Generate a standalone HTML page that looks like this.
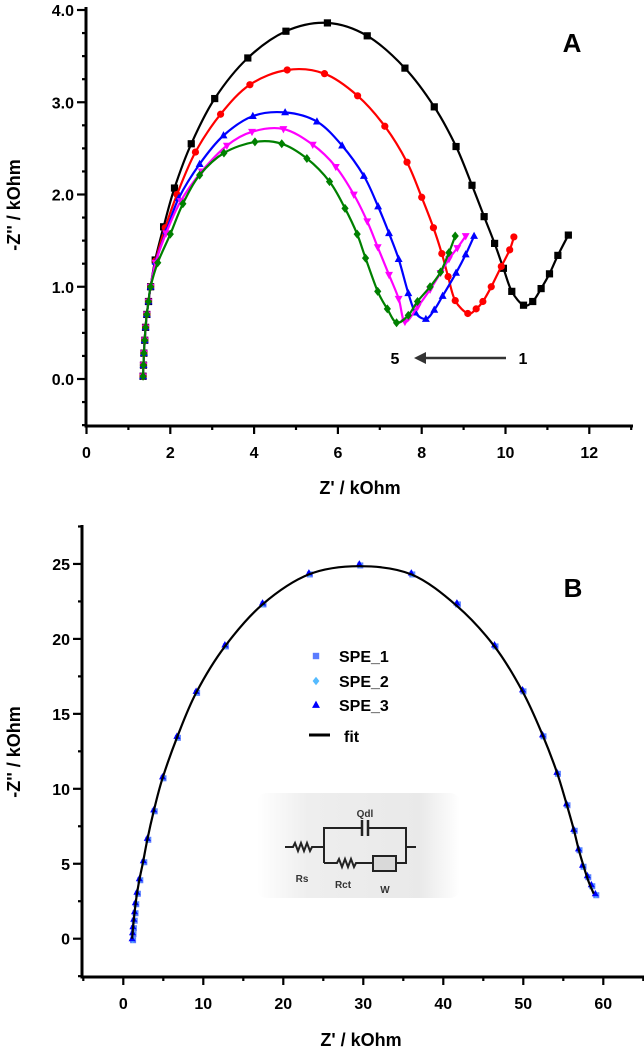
<!DOCTYPE html>
<html><head><meta charset="utf-8"><style>
html,body{margin:0;padding:0;background:#fff;}
svg{display:block;font-family:"Liberation Sans",sans-serif;font-weight:bold;}
</style></head><body>
<svg id="chart" width="644" height="1050" viewBox="0 0 644 1050" xmlns="http://www.w3.org/2000/svg">
<defs>
<linearGradient id="insetGrad" x1="0" x2="1" y1="0" y2="0">
<stop offset="0" stop-color="#ffffff"/><stop offset="0.25" stop-color="#eeeeee"/><stop offset="0.8" stop-color="#e9e9e9"/><stop offset="1" stop-color="#ffffff"/>
</linearGradient>
</defs>
<g id="panelA"></g>
<g id="panelB"></g>
</svg>
<script>
// ---------- Panel A data ----------
const aStartX = [1.35,1.36,1.37,1.39,1.41,1.44,1.48,1.53];
const aStartY = [0.03,0.15,0.28,0.42,0.56,0.7,0.84,1.0];
const blackX = [1.64,1.84,2.1,2.5,3.06,3.85,4.76,5.75,6.7,7.6,8.3,8.82,9.2,9.49,9.74,9.95,10.15,10.43,10.65,10.85,11.05,11.25,11.5];
const blackY = [1.29,1.65,2.07,2.55,3.04,3.48,3.77,3.86,3.72,3.37,2.95,2.52,2.1,1.76,1.47,1.2,0.95,0.8,0.84,0.98,1.14,1.34,1.56];
const redX = [1.65,1.88,2.16,2.6,3.2,3.9,4.79,5.68,6.47,7.12,7.65,8.0,8.28,8.48,8.63,8.8,9.1,9.3,9.46,9.66,9.9,10.1,10.2];
const redY = [1.28,1.64,2.0,2.46,2.87,3.19,3.35,3.31,3.07,2.74,2.35,1.97,1.64,1.36,1.11,0.85,0.71,0.76,0.84,1.0,1.22,1.4,1.54];
const blueX = [1.65,1.9,2.2,2.7,3.27,3.97,4.74,5.5,6.1,6.62,6.96,7.22,7.45,7.68,7.85,8.1,8.3,8.5,8.82,9.05,9.25];
const blueY = [1.27,1.6,1.96,2.33,2.64,2.85,2.89,2.79,2.53,2.2,1.87,1.58,1.3,0.93,0.72,0.65,0.75,0.9,1.15,1.35,1.55];
const magX = [1.65,1.9,2.25,2.75,3.35,3.95,4.7,5.4,5.95,6.38,6.7,6.95,7.22,7.45,7.6,7.9,8.2,8.45,8.65,8.85,9.05];
const magY = [1.26,1.58,1.93,2.25,2.53,2.68,2.71,2.54,2.3,2.0,1.71,1.43,1.13,0.87,0.62,0.78,0.97,1.15,1.3,1.42,1.55];
const greenX = [1.7,2.0,2.3,2.7,3.28,4.02,4.66,5.26,5.8,6.17,6.46,6.66,6.95,7.18,7.4,7.68,7.9,8.2,8.45,8.65,8.8];
const greenY = [1.26,1.57,1.9,2.21,2.45,2.57,2.55,2.39,2.14,1.85,1.57,1.31,0.95,0.76,0.61,0.69,0.84,1.0,1.16,1.37,1.55];
const aXTicks = [0,2,4,6,8,10,12];
const aYTicks = [0,1,2,3,4];
const aYTickLabels = ["0.0","1.0","2.0","3.0","4.0"];

// ---------- Panel B data ----------
const bX = [1.1,1.15,1.2,1.3,1.4,1.5,1.7,2.0,2.5,3.0,3.8,4.9,6.7,9.1,12.7,17.4,23.2,29.5,36.0,41.7,46.4,49.9,52.4,54.2,55.4,56.3,56.9,57.4,58.0,58.5,59.0];
const bY = [0,0.4,0.8,1.3,1.8,2.4,3.1,4.0,5.2,6.7,8.6,10.8,13.5,16.5,19.6,22.4,24.4,25.0,24.4,22.4,19.6,16.6,13.6,11.1,9.0,7.3,6.0,4.9,4.2,3.6,3.0];
const fitX = [1.1,1.3,1.6,2.0,2.5,3.0,3.8,4.9,6.7,9.1,12.7,17.4,23.2,29.5,36.0,41.7,46.4,49.9,52.4,54.2,55.4,56.3,56.9,57.5,58.1,58.8];
const fitY = [0,1.2,2.6,3.9,5.2,6.6,8.5,10.7,13.4,16.4,19.5,22.3,24.3,24.85,24.3,22.2,19.5,16.5,13.6,11.1,9.0,7.3,6.0,4.9,3.9,3.0];
const bXTicks = [0,10,20,30,40,50,60];
const bYTicks = [0,5,10,15,20,25];

const NS = "http://www.w3.org/2000/svg";
function mk(parent, tag, attrs, text) {
  const e = document.createElementNS(NS, tag);
  for (const k in attrs) e.setAttribute(k, attrs[k]);
  if (text !== undefined) e.textContent = text;
  parent.appendChild(e);
  return e;
}
function smooth(pts) {
  let d = "M" + pts[0][0].toFixed(1) + "," + pts[0][1].toFixed(1);
  for (let i = 0; i < pts.length - 1; i++) {
    const p0 = pts[i - 1] || pts[i], p1 = pts[i], p2 = pts[i + 1], p3 = pts[i + 2] || p2;
    const c1 = [p1[0] + (p2[0] - p0[0]) / 6, p1[1] + (p2[1] - p0[1]) / 6];
    const c2 = [p2[0] - (p3[0] - p1[0]) / 6, p2[1] - (p3[1] - p1[1]) / 6];
    d += "C" + c1.map(v=>v.toFixed(1)).join(",") + " " + c2.map(v=>v.toFixed(1)).join(",") + " " + p2[0].toFixed(1) + "," + p2[1].toFixed(1);
  }
  return d;
}
function marker(g, shape, x, y, color, s) {
  let e;
  if (shape === "square") e = mk(g, "rect", {x: x - s, y: y - s, width: 2 * s, height: 2 * s, fill: color});
  else if (shape === "circle") e = mk(g, "circle", {cx: x, cy: y, r: s, fill: color});
  else if (shape === "up") e = mk(g, "polygon", {points: `${x},${y - s * 1.2} ${x - s * 1.1},${y + s * 0.8} ${x + s * 1.1},${y + s * 0.8}`, fill: color});
  else if (shape === "down") e = mk(g, "polygon", {points: `${x},${y + s * 1.2} ${x - s * 1.1},${y - s * 0.8} ${x + s * 1.1},${y - s * 0.8}`, fill: color});
  else e = mk(g, "polygon", {points: `${x},${y - s * 1.25} ${x + s},${y} ${x},${y + s * 1.25} ${x - s},${y}`, fill: color});
  return e;
}

// ---------- Panel A ----------
(function () {
  const g = document.getElementById("panelA");
  const xA = v => 86.5 + v * 41.9;
  const yA = v => 379 - v * 92.25;
  const axL = 86, axB = 426, axT = 7, axR = 633;
  const ax = mk(g, "g", {});
  
  
  mk(ax, "line", {x1: axL, y1: axT, x2: axL, y2: axB + 1.5, stroke: "#000", "stroke-width": 3});
  mk(ax, "line", {x1: axL - 1.5, y1: axB, x2: axR, y2: axB, stroke: "#000", "stroke-width": 3});
  for (let v = -0.5; v <= 4.01; v += 0.25) {
    const major = Math.abs(v - Math.round(v)) < 0.01;
    mk(ax, "line", {x1: axL - (major ? 9 : 4), y1: yA(v), x2: axL, y2: yA(v), stroke: "#000", "stroke-width": 2.2});
  }
  for (let v = 0; v <= 13; v += 1) {
    const major = v % 2 === 0;
    mk(ax, "line", {x1: xA(v), y1: axB, x2: xA(v), y2: axB + (major ? 8 : 4), stroke: "#000", "stroke-width": 2.2});
  }
  aYTicks.forEach((v, i) => {
    const t = mk(ax, "text", {x: axL - 12, y: yA(v) + 6, "text-anchor": "end", "font-size": 16}, aYTickLabels[i]);
    
    
  });
  aXTicks.forEach(v => {
    const t = mk(ax, "text", {x: xA(v), y: 458, "text-anchor": "middle", "font-size": 16}, String(v));
    
    
  });
  const xt = mk(g, "text", {x: 360, y: 494, "text-anchor": "middle", "font-size": 18}, "Z' / kOhm");
  
  
  const yt = mk(g, "text", {x: 0, y: 0, transform: "translate(20,205) rotate(-90)", "text-anchor": "middle", "font-size": 18}, "-Z'' / kOhm");
  
  
  const lab = mk(g, "text", {x: 572, y: 52, "text-anchor": "middle", "font-size": 26}, "A");
  
  
  const series = [
    {name: "series-1-black", xs: blackX, ys: blackY, c: "#000000", m: "square"},
    {name: "series-2-red", xs: redX, ys: redY, c: "#ff0000", m: "circle"},
    {name: "series-3-blue", xs: blueX, ys: blueY, c: "#0000ff", m: "up"},
    {name: "series-4-magenta", xs: magX, ys: magY, c: "#ff00ff", m: "down"},
    {name: "series-5-green", xs: greenX, ys: greenY, c: "#008000", m: "diamond"}
  ];
  series.forEach(s => {
    const sg = mk(g, "g", {});
    
    
    const xs = aStartX.concat(s.xs), ys = aStartY.concat(s.ys);
    const pts = xs.map((x, i) => [xA(x), yA(ys[i])]);
    const p = mk(sg, "path", {d: smooth(pts), fill: "none", stroke: s.c, "stroke-width": 2.2});
    
    
    pts.forEach(pt => {
      const m = marker(sg, s.m, pt[0], pt[1], s.c, 3.6);
      
      
    });
  });
  const an = mk(g, "g", {});
  
  
  mk(an, "text", {x: 395, y: 364, "text-anchor": "middle", "font-size": 16}, "5");
  mk(an, "text", {x: 523, y: 364, "text-anchor": "middle", "font-size": 16}, "1");
  mk(an, "line", {x1: 506, y1: 358, x2: 422, y2: 358, stroke: "#333", "stroke-width": 2.5});
  mk(an, "polygon", {points: "414,358 426,352 426,364", fill: "#333"});
})();

// ---------- Panel B ----------
(function () {
  const g = document.getElementById("panelB");
  const xB = v => 123.3 + v * 8.0;
  const yB = v => 938.7 - v * 14.99;
  const axL = 82, axB = 977, axT = 525, axR = 644;
  const ax = mk(g, "g", {});
  
  
  mk(ax, "line", {x1: axL, y1: axT, x2: axL, y2: axB + 1.5, stroke: "#000", "stroke-width": 3});
  mk(ax, "line", {x1: axL - 1.5, y1: axB, x2: axR, y2: axB, stroke: "#000", "stroke-width": 3});
  for (let v = -2.5; v <= 27.6; v += 2.5) {
    const major = Math.abs(v % 5) < 0.01;
    mk(ax, "line", {x1: axL - (major ? 9 : 4), y1: yB(v), x2: axL, y2: yB(v), stroke: "#000", "stroke-width": 2.2});
  }
  for (let v = -5; v <= 65; v += 5) {
    const major = v % 10 === 0;
    mk(ax, "line", {x1: xB(v), y1: axB, x2: xB(v), y2: axB + (major ? 8 : 4), stroke: "#000", "stroke-width": 2.2});
  }
  bYTicks.forEach(v => {
    const t = mk(ax, "text", {x: axL - 12, y: yB(v) + 6, "text-anchor": "end", "font-size": 16}, String(v));
    
    
  });
  bXTicks.forEach(v => {
    const t = mk(ax, "text", {x: xB(v), y: 1009, "text-anchor": "middle", "font-size": 16}, String(v));
    
    
  });
  const xt = mk(g, "text", {x: 361, y: 1046, "text-anchor": "middle", "font-size": 18}, "Z' / kOhm");
  
  
  const yt = mk(g, "text", {x: 0, y: 0, transform: "translate(20,752) rotate(-90)", "text-anchor": "middle", "font-size": 18}, "-Z'' / kOhm");
  
  
  const lab = mk(g, "text", {x: 573, y: 597, "text-anchor": "middle", "font-size": 26}, "B");
  
  

  const s1 = mk(g, "g", {});
  
  
  const s2 = mk(g, "g", {});
  
  
  const s3 = mk(g, "g", {});
  
  
  bX.forEach((x, i) => {
    const px = xB(x), py = yB(bY[i]);
    const a = marker(s1, "square", px + 1, py + 1.5, "#5b7cff", 3);
    
    
    const b = marker(s2, "diamond", px + 0.5, py + 0.8, "#55bbff", 3);
    
    
    const c = marker(s3, "up", px, py, "#0000ff", 3.2);
    
    
  });
  const fit = mk(g, "path", {d: smooth(fitX.map((x, i) => [xB(x), yB(fitY[i])])), fill: "none", stroke: "#000", "stroke-width": 2.2});
  
  

  const lg = mk(g, "g", {"font-size": 16});
  
  
  const e1 = mk(lg, "g", {});
  
  
  marker(e1, "square", 316, 656, "#5b7cff", 3.2);
  mk(e1, "text", {x: 339, y: 662}, "SPE_1");
  const e2 = mk(lg, "g", {});
  
  
  marker(e2, "diamond", 316, 681, "#55bbff", 3.4);
  mk(e2, "text", {x: 339, y: 687}, "SPE_2");
  const e3 = mk(lg, "g", {});
  
  
  marker(e3, "up", 316, 705, "#0000ff", 3.6);
  mk(e3, "text", {x: 339, y: 711}, "SPE_3");
  const e4 = mk(lg, "g", {});
  
  
  mk(e4, "line", {x1: 309, y1: 735, x2: 330, y2: 735, stroke: "#000", "stroke-width": 3});
  mk(e4, "text", {x: 344, y: 742}, "fit");

  const ins = mk(g, "g", {});
  
  
  mk(ins, "rect", {x: 257, y: 793, width: 203, height: 105, rx: 10, fill: "url(#insetGrad)"});
  const w = {stroke: "#222", "stroke-width": 2, fill: "none"};
  mk(ins, "polyline", Object.assign({points: "285,847 293,847 295,843 298,851 301,843 304,851 307,843 310,851 312,847 324,847"}, w));
  mk(ins, "polyline", Object.assign({points: "324,863 324,828 362,828"}, w));
  mk(ins, "polyline", Object.assign({points: "369,828 406,828 406,863 396,863"}, w));
  mk(ins, "line", {x1: 362, y1: 820, x2: 362, y2: 836, stroke: "#222", "stroke-width": 2.5});
  mk(ins, "line", {x1: 368, y1: 820, x2: 368, y2: 836, stroke: "#222", "stroke-width": 2.5});
  mk(ins, "line", {x1: 406, y1: 847, x2: 416, y2: 847, stroke: "#222", "stroke-width": 2});
  mk(ins, "polyline", Object.assign({points: "324,863 337,863 339,859 342,867 345,859 348,867 351,859 354,867 356,863 373,863"}, w));
  mk(ins, "rect", {x: 373, y: 856, width: 23, height: 15, fill: "#d9d9d9", stroke: "#222", "stroke-width": 2});
  mk(ins, "text", {x: 365, y: 817, "text-anchor": "middle", "font-size": 10, fill: "#333"}, "Qdl");
  mk(ins, "text", {x: 302, y: 882, "text-anchor": "middle", "font-size": 10, fill: "#333"}, "Rs");
  mk(ins, "text", {x: 343, y: 888, "text-anchor": "middle", "font-size": 10, fill: "#333"}, "Rct");
  mk(ins, "text", {x: 385, y: 893, "text-anchor": "middle", "font-size": 10, fill: "#333"}, "W");
})();
</script>
</body></html>
